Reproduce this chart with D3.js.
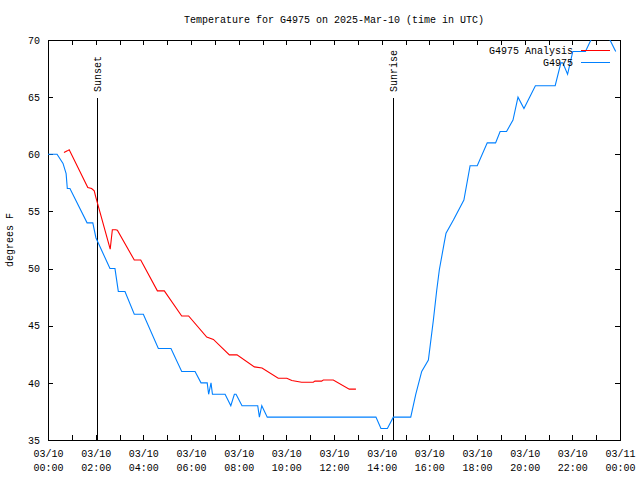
<!DOCTYPE html>
<html><head><meta charset="utf-8">
<script src="https://cdn.jsdelivr.net/npm/d3@7"></script>
<style>body{margin:0;background:#fff}text{font-family:"Liberation Mono","DejaVu Sans Mono",monospace;font-size:10px;fill:#000}</style>
</head><body><svg id="c" width="640" height="480"></svg>
<script>
// Observations: hours after 2025-03-10 00:00 UTC, degrees F
const obsHours = [0,0.38,0.63,0.76,0.81,0.92,1.64,1.88,2.01,2.60,2.81,2.95,3.23,3.62,4.00,4.63,5.16,5.61,6.17,6.42,6.68,6.74,6.84,6.90,7.43,7.67,7.82,7.89,8.14,8.80,8.87,8.97,9.20,13.76,13.97,14.24,14.49,15.22,15.43,15.68,15.96,16.17,16.31,16.42,16.62,16.70,17.01,17.45,17.71,18.01,18.43,18.78,18.97,19.24,19.51,19.72,19.97,20.45,21.28,21.52,21.60,21.80,22.02,22.55,23.01,23.34,23.82];
const obsTemps = [60,60,59.2,58.3,57,57,54,54,52.7,50,50,48,48,46,46,43,43,41,41,40,40,39,40,39,39,38,39,39,38,38,37,38,37,37,36,36,37,37,39,41,42,45.5,48.1,49.9,52.2,53.1,54.25,56,59,59,61,61,62,62,63,65,64,66,66,68,68,67,69,69,71,71,69];
// Analysis
const anaHours = [0.67,0.81,0.89,1.67,1.83,1.94,2.00,2.61,2.70,2.84,2.91,3.62,3.89,4.59,4.88,5.61,5.90,6.66,6.94,7.61,7.93,8.66,8.98,9.66,10.02,10.23,10.64,11.13,11.20,11.48,11.55,11.97,12.64,12.92];
const anaTemps = [60.15,60.3,60.4,57.1,57.0,56.8,56.3,51.7,53.4,53.4,53.35,50.75,50.75,48.05,48.05,45.85,45.85,44.0,43.8,42.45,42.45,41.4,41.3,40.4,40.4,40.2,40.05,40.05,40.15,40.15,40.25,40.25,39.45,39.45];
const yTicks = [35,40,45,50,55,60,65,70];
const sunEvents = [{label:"Sunset", h:2.04},{label:"Sunrise", h:14.49}];
const seriesNames = ["G4975 Analysis","G4975"];
const titleText = "Temperature for G4975 on 2025-Mar-10 (time in UTC)";

const L=48,R=620,T=40,B=440;
const t0 = Date.UTC(2025,2,10);
const toDate = h => new Date(t0 + h*3600e3);
const x = d3.scaleUtc().domain([toDate(0), toDate(24)]).range([L,R]);
const y = d3.scaleLinear().domain([35,70]).range([B,T]);
const svg = d3.select("#c");

svg.append("text").attr("x",334).attr("y",23).attr("text-anchor","middle").text(titleText);
svg.append("text").attr("transform","translate(13,240) rotate(-90)").attr("text-anchor","middle").text("degrees F");

svg.append("clipPath").attr("id","clip").append("rect").attr("x",L).attr("y",T).attr("width",R-L).attr("height",B-T);

// axes
const fmtD = d3.utcFormat("%m/%d"), fmtT = d3.utcFormat("%H:%M");
const gx = svg.append("g").attr("transform",`translate(0,${B})`)
  .call(d3.axisBottom(x).ticks(d3.utcHour.every(2)).tickSize(-5).tickPadding(10).tickFormat(""));
gx.selectAll(".tick").each(function(d){
  const t = d3.select(this).select("text");
  t.append("tspan").attr("x",0).attr("dy","0.71em").text(fmtD(d));
  t.append("tspan").attr("x",0).attr("dy","1.4em").text(fmtT(d));
});
svg.append("g").attr("transform",`translate(0,${B})`)
  .call(d3.axisBottom(x).ticks(d3.utcHour.every(1)).tickSize(-5).tickFormat(""));
svg.append("g").attr("transform",`translate(0,${T})`)
  .call(d3.axisTop(x).ticks(d3.utcHour.every(1)).tickSize(-5).tickFormat(""));
svg.append("g").attr("transform",`translate(${L},0)`)
  .call(d3.axisLeft(y).tickValues(yTicks).tickSize(-5).tickPadding(8));
svg.append("g").attr("transform",`translate(${R},0)`)
  .call(d3.axisRight(y).tickValues(yTicks).tickSize(-5).tickFormat(""));
svg.selectAll(".domain").remove();
svg.selectAll(".tick line").attr("stroke","#000").attr("shape-rendering","crispEdges");
svg.selectAll(".tick text").attr("font-size",null).attr("font-family",null);
svg.selectAll("g").attr("font-size",null).attr("font-family",null);
svg.append("rect").attr("x",L).attr("y",T).attr("width",R-L).attr("height",B-T)
  .attr("fill","none").attr("stroke","#000").attr("shape-rendering","crispEdges");

// sun events
sunEvents.forEach(e=>{
  const xx = Math.round(x(toDate(e.h)))+0.5;
  svg.append("line").attr("x1",xx).attr("x2",xx).attr("y1",98).attr("y2",B).attr("stroke","#000");
  svg.append("text").attr("transform",`translate(${xx},92) rotate(-90)`).attr("dy","0.35em").text(e.label);
});

const line = d3.line().x(d=>x(toDate(d[0]))).y(d=>y(d[1]));
const g = svg.append("g").attr("clip-path","url(#clip)");
g.append("path").datum(anaHours.map((h,i)=>[h,anaTemps[i]])).attr("d",line)
  .attr("fill","none").attr("stroke","#ff0000").attr("stroke-width",1.1);
g.append("path").datum(obsHours.map((h,i)=>[h,obsTemps[i]])).attr("d",line)
  .attr("fill","none").attr("stroke","#0080ff").attr("stroke-width",1.1);

// legend
const colors = ["#ff0000","#0080ff"];
seriesNames.forEach((n,i)=>{
  const yy = 50 + i*12;
  svg.append("text").attr("x",573).attr("y",yy).attr("dy","0.35em").attr("text-anchor","end").text(n);
  svg.append("line").attr("x1",581).attr("x2",610).attr("y1",yy+0.5).attr("y2",yy+0.5).attr("stroke",colors[i]);
});
</script></body></html>
